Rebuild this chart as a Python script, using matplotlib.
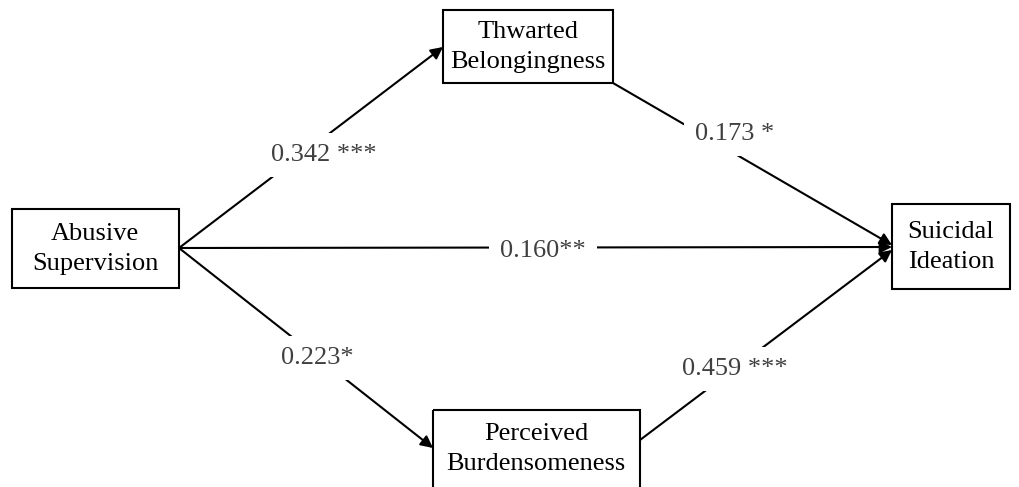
import matplotlib
matplotlib.use("Agg")
from matplotlib import pyplot as plt
from matplotlib.patches import Rectangle

# node labels and path coefficients
nodes = ["Abusive\nSupervision", "Thwarted\nBelongingness",
         "Perceived\nBurdensomeness", "Suicidal\nIdeation"]
paths = [(0, 1), (1, 3), (0, 3), (0, 2), (2, 3)]
coefs = ["0.342 ***", "0.173 *", "0.160**", "0.223*", "0.459 ***"]

# layout in pixel coordinates (x0, y0, x1, y1), y downwards
boxes = [(12, 209, 179, 288), (443, 10, 613, 83),
         (433, 410, 640, 500), (892, 204, 1010, 289)]
starts = [(179, 248), (613, 83), (179, 248), (179, 248), (640, 440)]
ends = [(443, 47), (892, 245), (892, 247), (433, 448), (892, 250)]
label_pos = [(324, 155), (735, 134), (543, 251), (317, 358), (735, 369)]
text_pos = [(95, 249), (528, 47), (536, 449), (951, 247)]

plt.rcParams["font.family"] = ["Liberation Serif", "DejaVu Serif"]

fig = plt.figure(figsize=(10.19, 4.87), dpi=100)
ax = fig.add_axes([0, 0, 1, 1])
ax.set_xlim(0, 1019)
ax.set_ylim(487, 0)
ax.axis("off")

for (x0, y0, x1, y1), name, (tx, ty) in zip(boxes, nodes, text_pos):
    ax.add_patch(Rectangle((x0, y0), x1 - x0, y1 - y0, fill=False,
                           edgecolor="black", linewidth=1.5, zorder=3))
    ax.text(tx, ty, name, ha="center", va="center", fontsize=19,
            linespacing=1.5, color="black", zorder=4)

for (a, b), s, e, c, lp in zip(paths, starts, ends, coefs, label_pos):
    ax.annotate("", xy=e, xytext=s,
                arrowprops=dict(arrowstyle="-|>", color="black", lw=1.5,
                                mutation_scale=18, shrinkA=0, shrinkB=0),
                zorder=1)
    ax.text(lp[0], lp[1], c, ha="center", va="center", fontsize=19,
            color="#404040", zorder=2,
            bbox=dict(facecolor="white", edgecolor="none", pad=8))

plt.savefig("out.png", dpi=100)
